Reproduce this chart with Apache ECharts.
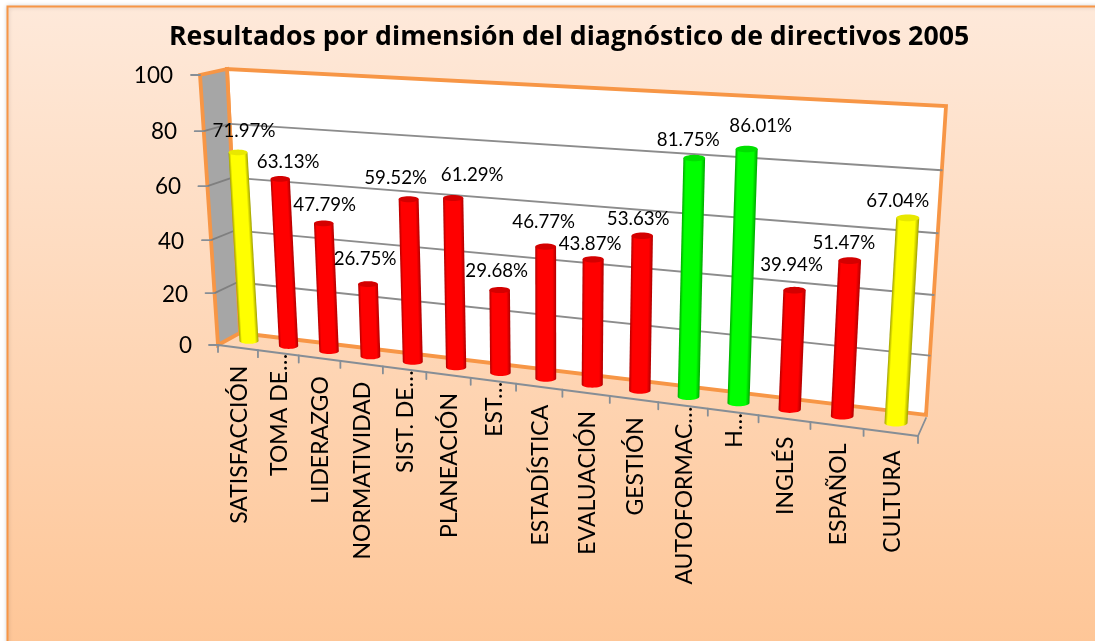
<!DOCTYPE html>
<html><head><meta charset="utf-8">
<style>html,body{margin:0;padding:0;background:#fff}#c{width:1095px;height:641px}</style>
<script src="https://cdn.jsdelivr.net/npm/echarts@6/dist/echarts.min.js"></script>
</head><body><div id="c"></div>
<script>
const titleText = 'Resultados por dimensión del diagnóstico de directivos 2005';
const categories = ['SATISFACCIÓN','TOMA DE…','LIDERAZGO','NORMATIVIDAD','SIST. DE…','PLANEACIÓN','EST…','ESTADÍSTICA','EVALUACIÓN','GESTIÓN','AUTOFORMAC…','H…','INGLÉS','ESPAÑOL','CULTURA'];
const values = [71.97,63.13,47.79,26.75,59.52,61.29,29.68,46.77,43.87,53.63,81.75,86.01,39.94,51.47,67.04];
const yTicks = [0,20,40,60,80,100];

// Oblique view: where the axes' plot box lands on screen
const FONT = 'Lato, Carlito, sans-serif';
const ORANGE = '#F79646', GRID = '#8C8C8C', AXIS = '#868E96';
const backWall = {bl:[240,333], br:[926,415], tr:[946,106], tl:[227,69]};
const sideWall = {bl:[218,345], br:[240,333], tr:[227,69], tl:[200,75]};
const floorFront = {l:[218,345], r:[918,436]};
const barPlane = {bl:[249,341], br:[896,423], tr:[913.5,117], tl:[233.7,79]};
const KX = 1.18, KT = 1.05;
const labelNudge = [[6,-21],[8,-17],[1,-18],[-3,-25],[-13,-21],[19,-23],[-3,-19],[-2,-25],[-3,-15],[-4,-17],[-6,-18],[14,-23],[-3,-25],[-6,-18],[-10,-17]];
const yLabelShift = {0:[0,5],20:[6,9],40:[8,13],60:[6,16],80:[4,20],100:[0,24]};
const barPalette = {
  red:{edge:'#B00000',mid:'#FF0000',cap:'#D40000'},
  yellow:{edge:'#A0A000',mid:'#FFFF00',cap:'#E8E800'},
  green:{edge:'#00A800',mid:'#00FF00',cap:'#00E000'}
};
const band = v => v >= 80 ? 'green' : v >= 65 ? 'yellow' : 'red';

const warp = (s,k) => s/(s+(1-s)*k);
const lerp = (a,b,t) => [a[0]+(b[0]-a[0])*t, a[1]+(b[1]-a[1])*t];
const onQuad = (q,s,t) => lerp(lerp(q.bl,q.br,s), lerp(q.tl,q.tr,s), t);
const poly = (points,style) => ({type:'polygon',shape:{points},style});
const line = (a,b,stroke,lineWidth) => ({type:'line',shape:{x1:a[0],y1:a[1],x2:b[0],y2:b[1]},style:{stroke,lineWidth,lineCap:'round'}});
const tOf = (api,v) => { const y0=api.coord([0,0])[1], y1=api.coord([0,100])[1]; return (y0-api.coord([0,v])[1])/(y0-y1); };
// fraction 0..1 across the category band centres
const sOf = (api,params,i) => {
  const n=categories.length, cs=params.coordSys;
  const s=(api.coord([i,0])[0]-cs.x)/cs.width;
  return (s*n-0.5)/(n-1);
};

function renderFrame(params,api){
  const kids=[];
  kids.push(poly([backWall.bl,backWall.br,backWall.tr,backWall.tl],{fill:'#fff',stroke:ORANGE,lineWidth:3.8,lineJoin:'miter'}));
  kids.push(poly([sideWall.bl,sideWall.br,sideWall.tr,sideWall.tl],{fill:'#A6A6A6',stroke:ORANGE,lineWidth:3.8,lineJoin:'miter'}));
  yTicks.forEach(v=>{
    const t=warp(tOf(api,v),KT);
    const f=lerp(sideWall.bl,sideWall.tl,t), m=lerp(backWall.bl,backWall.tl,t), r=lerp(backWall.br,backWall.tr,t);
    if(v>0&&v<100){
      kids.push(line(f,m,'#7F7F7F',1.8));
      kids.push(line(m,r,GRID,1.8));
    }
    kids.push(line([f[0]-9,f[1]],f,AXIS,1.8));
  });
  kids.push(line(floorFront.l,floorFront.r,AXIS,1.8));
  kids.push(line(floorFront.r,[backWall.br[0],backWall.br[1]+3],AXIS,1.8));
  const n=categories.length;
  for(let i=0;i<=n;i++){
    const p=lerp(floorFront.l,floorFront.r,warp(i/n,KX));
    kids.push(line(p,[p[0],p[1]+7],AXIS,1.8));
  }
  return {type:'group',children:kids};
}

function renderBar(params,api){
  const i=api.value(0), v=api.value(1);
  const S=warp(sOf(api,params,i),KX), T=tOf(api,v);
  const b=onQuad(barPlane,S,0), t=onQuad(barPlane,S,T);
  const r=9.5+2*S, ry=r*0.3;
  const pal=barPalette[band(v)];
  const dx=t[0]-b[0], dy=t[1]-b[1], L=Math.hypot(dx,dy);
  let nx=-dy/L, ny=dx/L;
  if(nx<0){nx=-nx;ny=-ny;}
  const mx=(b[0]+t[0])/2, my=(b[1]+t[1])/2;
  const grad=new echarts.graphic.LinearGradient(mx-nx*r,my-ny*r,mx+nx*r,my+ny*r,[
    {offset:0,color:pal.edge},{offset:0.13,color:pal.mid},{offset:0.82,color:pal.mid},{offset:1,color:pal.edge}],true);
  const pts=[[t[0]+r,t[1]]];
  for(let a=0;a<=16;a++){const th=Math.PI*a/16; pts.push([b[0]+r*Math.cos(th),b[1]+ry*Math.sin(th)]);}
  pts.push([t[0]-r,t[1]]);
  const cap=[];
  for(let a=0;a<32;a++){const th=2*Math.PI*a/32; cap.push([t[0]+r*Math.cos(th),t[1]+ry*Math.sin(th)]);}
  return {type:'group',children:[poly(pts,{fill:grad}),poly(cap,{fill:pal.cap})]};
}

function renderValueLabel(params,api){
  const i=api.value(0), v=api.value(1);
  const t=onQuad(barPlane,warp(sOf(api,params,i),KX),tOf(api,v));
  const d=labelNudge[i];
  return {type:'text',x:t[0]+d[0],y:t[1]+d[1],style:{text:v.toFixed(2)+'%',fontFamily:FONT,fontSize:18.7,fill:'#000',align:'center',verticalAlign:'middle'}};
}

function renderCatLabel(params,api){
  const i=api.value(0), name=categories[i];
  const p=lerp(floorFront.l,floorFront.r,warp((i+0.5)/categories.length,KX));
  // truncated names run up to the axis line, whole ones sit below it
  const gap=name.endsWith('…')?1:18;
  return {type:'text',x:p[0]+1.5,y:p[1]+gap,rotation:Math.PI/2,style:{text:name,fontFamily:FONT,fontSize:23,fill:'#000',align:'right',verticalAlign:'middle'}};
}

const rich={};
yTicks.forEach(v=>{const s=yLabelShift[v]; rich['t'+v]={fontFamily:FONT,fontSize:22.5,color:'#000',padding:[s[0],s[1],0,0]};});
const pts=categories.map((c,i)=>[i,values[i]]);

const chart=echarts.init(document.getElementById('c'),null,{renderer:'canvas'});
chart.setOption({
  animation:false,
  graphic:[{type:'rect',z:-5,shape:{x:7.5,y:6.5,width:1200,height:800},style:{
    fill:new echarts.graphic.LinearGradient(0,0,0,1,[{offset:0,color:'#FEE9DA'},{offset:1,color:'#FEBD86'}]),
    stroke:ORANGE,lineWidth:2,shadowColor:'rgba(0,0,0,0.18)',shadowBlur:4}}],
  title:{text:titleText,left:164,top:19,textStyle:{fontFamily:'"Open Sans", sans-serif',fontWeight:'bold',fontSize:26.7,color:'#000'}},
  grid:{left:205,top:76,width:720,height:270,containLabel:false},
  xAxis:{type:'category',data:categories,show:false},
  yAxis:{type:'value',min:0,max:100,interval:20,
    axisLine:{show:false},axisTick:{show:false},splitLine:{show:false},
    axisLabel:{margin:8,formatter:v=>'{t'+v+'|'+v+'}',rich}},
  series:[
    {type:'custom',name:'frame',z:2,silent:true,clip:false,renderItem:renderFrame,data:[[0,0]],encode:{x:0,y:1}},
    {type:'custom',name:'categoryLabels',z:3,silent:true,clip:false,renderItem:renderCatLabel,data:pts,encode:{x:0,y:1}},
    {type:'custom',name:'Resultados',z:4,clip:false,renderItem:renderBar,data:pts,encode:{x:0,y:1}},
    {type:'custom',name:'valueLabels',z:5,silent:true,clip:false,renderItem:renderValueLabel,data:pts,encode:{x:0,y:1}}
  ]
});
</script></body></html>
